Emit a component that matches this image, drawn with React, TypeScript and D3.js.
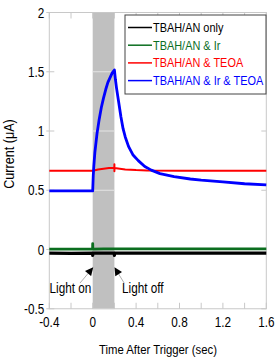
import React from "react";
import * as d3 from "d3";

const seriesNames = ["TBAH/AN only", "TBAH/AN & Ir", "TBAH/AN & TEOA", "TBAH/AN & Ir & TEOA"];
const seriesColors = ["#000000", "#0b6e1f", "#ff0000", "#0000ff"];

// black: TBAH/AN only
const blackT = [-0.4, -0.2, -0.001, 0, 0.001, 0.1, 0.199, 0.2, 0.201, 0.6, 1.0, 1.6];
const blackV = [-0.03, -0.032, -0.03, -0.05, -0.03, -0.031, -0.03, -0.05, -0.03, -0.031, -0.03, -0.031];
// green: TBAH/AN & Ir
const greenT = [-0.4, -0.2, -0.001, 0, 0.001, 0.1, 0.2, 0.6, 1.0, 1.6];
const greenV = [0.003, 0.004, 0.004, 0.05, 0.004, 0.005, 0.006, 0.005, 0.005, 0.006];
// red: TBAH/AN & TEOA
const redT = [-0.4, -0.2, 0, 0.05, 0.1, 0.15, 0.199, 0.2, 0.2, 0.201, 0.25, 0.3, 0.4, 0.5, 0.8, 1.2, 1.6];
const redV = [0.665, 0.665, 0.665, 0.675, 0.682, 0.687, 0.69, 0.72, 0.66, 0.688, 0.682, 0.676, 0.67, 0.667, 0.665, 0.665, 0.665];
// blue: TBAH/AN & Ir & TEOA
const blueT = [-0.4, -0.2, 0, 0.005, 0.01, 0.02, 0.04, 0.06, 0.08, 0.1, 0.12, 0.14, 0.16, 0.18, 0.2, 0.21, 0.22, 0.24, 0.26, 0.28, 0.3, 0.33, 0.37, 0.42, 0.48, 0.54, 0.62, 0.75, 0.9, 1.0, 1.2, 1.4, 1.6];
const blueV = [0.495, 0.495, 0.495, 0.62, 0.7, 0.82, 0.98, 1.1, 1.2, 1.28, 1.35, 1.41, 1.45, 1.49, 1.515, 1.43, 1.36, 1.24, 1.12, 1.02, 0.95, 0.87, 0.8, 0.75, 0.7, 0.67, 0.64, 0.615, 0.595, 0.585, 0.57, 0.555, 0.545];

const xTickValues = [-0.4, -0.2, 0, 0.2, 0.4, 0.6, 0.8, 1.0, 1.2, 1.4, 1.6];
const xTickLabels = ["-0.4", "0", "0.4", "0.8", "1.2", "1.6"];
const yTickValues = [-0.5, 0, 0.5, 1, 1.5, 2];
const yTickLabels = ["-0.5", "0", "0.5", "1", "1.5", "2"];
const lightBand = [0, 0.2];

const annotTexts = ["Light on", "Light off"];
const annotTextX = [-0.205, 0.27];
const annotTextY = [-0.367, -0.367];
const arrowFromX = [-0.117, 0.29];
const arrowFromY = [-0.283, -0.283];
const arrowToX = [0, 0.205];
const arrowToY = [-0.156, -0.156];

const FONT = "'Liberation Sans', Arial, sans-serif";
const SX = 0.84;

function NText(props: { x: number; y: number; size: number; anchor?: string; fill?: string; rotate?: boolean; children: React.ReactNode }) {
  const { x, y, size, anchor = "start", fill = "#000", rotate = false, children } = props;
  const tr = rotate ? `translate(${x},${y}) rotate(-90) scale(${SX},1)` : `translate(${x},${y}) scale(${SX},1)`;
  return (
    <text transform={tr} textAnchor={anchor} fontFamily={FONT} fontSize={size} fill={fill}>{children}</text>
  );
}

export default function App() {
  const W = 276, H = 362;
  const x = d3.scaleLinear().domain([-0.4, 1.6]).range([49.3, 266.3]);
  const y = d3.scaleLinear().domain([-0.5, 2]).range([308.75, 12.5]);
  const line = d3.line<[number, number]>().x(d => x(d[0])).y(d => y(d[1]));
  const mk = (t: number[], v: number[]) => t.map((ti, i) => [ti, v[i]] as [number, number]);
  const series = [
    { d: mk(blackT, blackV), w: 3.2 },
    { d: mk(greenT, greenV), w: 2.8 },
    { d: mk(redT, redV), w: 2 },
    { d: mk(blueT, blueV), w: 2.8 },
  ];
  const x0 = x(-0.4), x1 = x(1.6), y0 = y(-0.5), y1 = y(2);
  const frame = "#c8c8c8";
  const legX = 125, legY = 15, legW = 141, legH = 79;
  return (
    <svg width={W} height={H} style={{ position: "absolute", left: 0, top: 0, background: "#fff" }}>
      <defs>
        <marker id="ah" viewBox="0 0 10 10" refX="9" refY="5" markerWidth="9" markerHeight="8" orient="auto" markerUnits="userSpaceOnUse">
          <path d="M0,0 L10,5 L0,10 z" fill="#000" />
        </marker>
      </defs>
      {/* light band */}
      <rect x={x(lightBand[0])} y={y1} width={x(lightBand[1]) - x(lightBand[0])} height={y0 - y1} fill="#c0c0c0" />
      {yTickValues.map((v, i) => (
        <line key={"g" + i} x1={x(lightBand[0])} x2={x(lightBand[1])} y1={y(v)} y2={y(v)} stroke="#e4e4e4" strokeWidth={1} />
      ))}
      {/* frame */}
      <rect x={x0} y={y1} width={x1 - x0} height={y0 - y1} fill="none" stroke={frame} strokeWidth={1} />
      {xTickValues.map((v, i) => (
        <g key={"xt" + i} stroke={frame}>
          <line x1={x(v)} x2={x(v)} y1={y0} y2={y0 - 6} />
          <line x1={x(v)} x2={x(v)} y1={y1} y2={y1 + 6} />
        </g>
      ))}
      {yTickValues.map((v, i) => (
        <g key={"yt" + i} stroke={frame}>
          <line x1={x0 - 3} x2={x0 + 5} y1={y(v)} y2={y(v)} />
          <line x1={x1} x2={x1 - 5} y1={y(v)} y2={y(v)} />
        </g>
      ))}
      {/* series */}
      {series.map((s, i) => (
        <path key={"s" + i} d={line(s.d) || ""} fill="none" stroke={seriesColors[i]} strokeWidth={s.w} strokeLinejoin="round" />
      ))}
      {/* tick labels */}
      {xTickLabels.map((t, i) => (
        <NText key={"xl" + i} x={x(+t)} y={y0 + 18} size={14} anchor="middle">{t}</NText>
      ))}
      {yTickLabels.map((t, i) => (
        <NText key={"yl" + i} x={x0 - 5} y={y(+t) + 5} size={14} anchor="end">{t}</NText>
      ))}
      {/* axis titles */}
      <NText x={158} y={354} size={13.5} anchor="middle">Time After Trigger (sec)</NText>
      <NText x={14} y={154} size={15} anchor="middle" rotate>Current (μA)</NText>
      {/* annotations */}
      {annotTexts.map((t, i) => (
        <g key={"an" + i}>
          <line x1={x(arrowFromX[i])} y1={y(arrowFromY[i])} x2={x(arrowToX[i])} y2={y(arrowToY[i])} stroke="#999" strokeWidth={0.8} markerEnd="url(#ah)" />
          <NText x={x(annotTextX[i])} y={y(annotTextY[i])} size={14} anchor={i === 0 ? "middle" : "start"}>{t}</NText>
        </g>
      ))}
      {/* legend */}
      <rect x={legX} y={legY} width={legW} height={legH} fill="#fff" stroke="#444" strokeWidth={1} />
      {seriesNames.map((n, i) => (
        <g key={"lg" + i}>
          <line x1={legX + 3} x2={legX + 27} y1={legY + 12.5 + i * 17.7} y2={legY + 12.5 + i * 17.7} stroke={seriesColors[i]} strokeWidth={1.5} />
          <NText x={legX + 28} y={legY + 17 + i * 17.7} size={13} fill={seriesColors[i]}>{n}</NText>
        </g>
      ))}
    </svg>
  );
}
